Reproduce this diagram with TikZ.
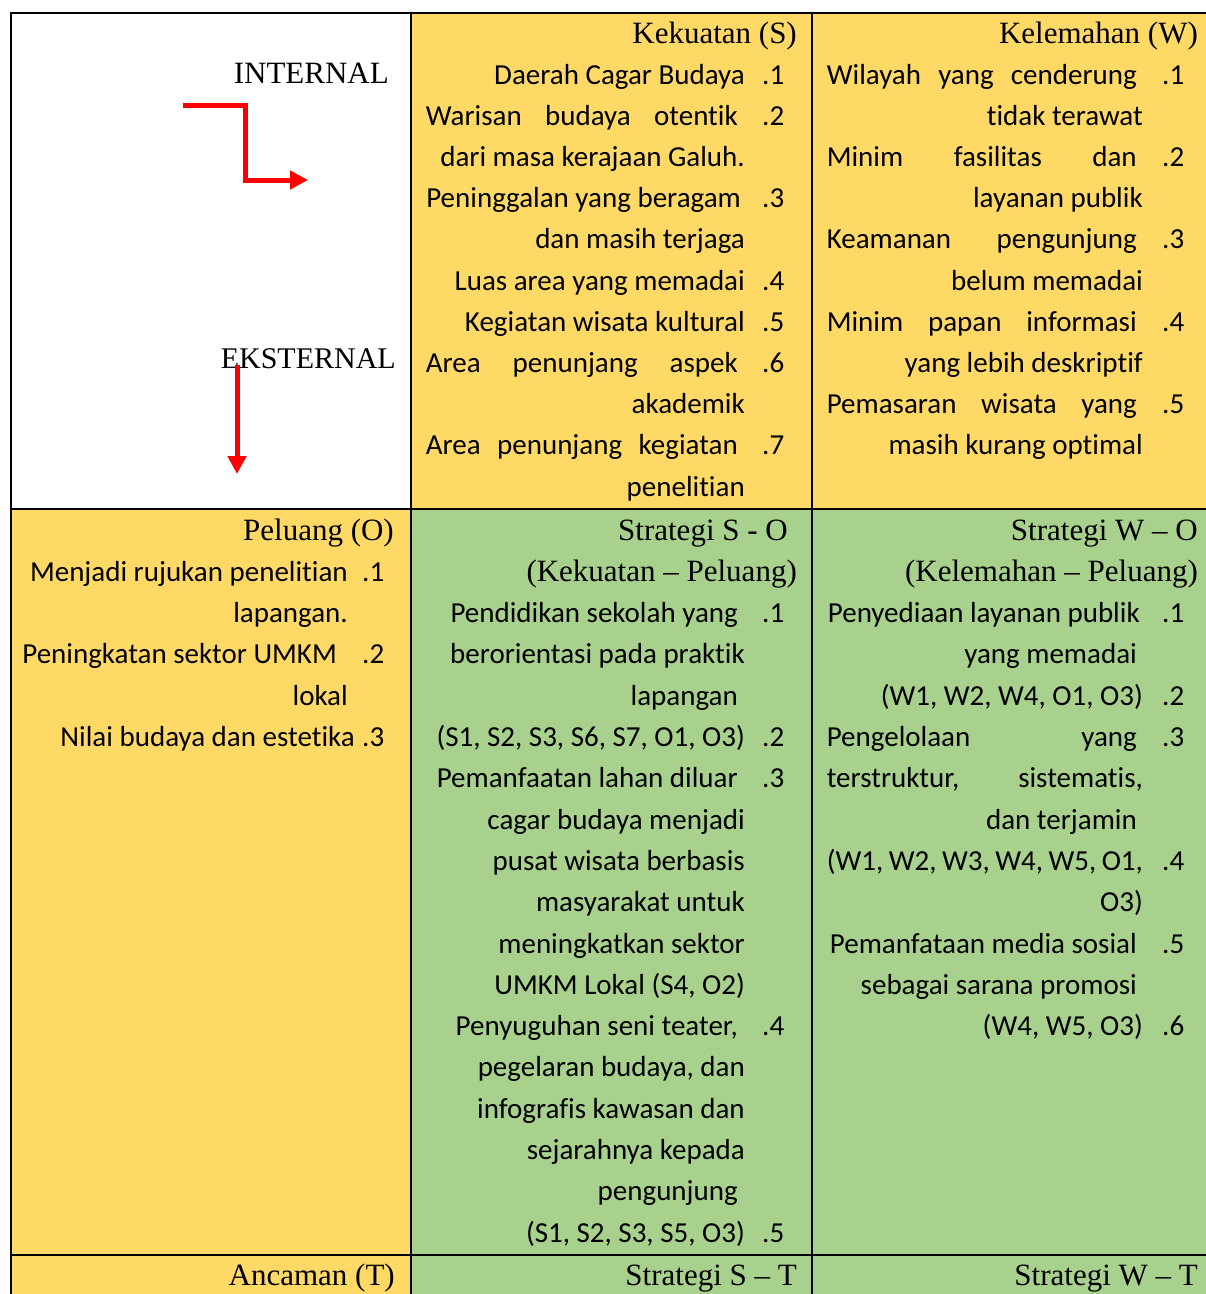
\documentclass[tikz,border=0pt]{standalone}
\usepackage{fontspec}
\setmainfont{Liberation Serif}
\newfontfamily\isifont[Ligatures=NoCommon]{Carlito}
\usetikzlibrary{arrows.meta}
\definecolor{kuning}{RGB}{255,217,102}
\definecolor{hijau}{RGB}{169,209,142}
\newcommand{\rata}[2]{\makebox[#1pt][s]{#2}}
\begin{document}
\begin{tikzpicture}[x=1pt,y=-1pt,line join=miter,
	isi/.style={anchor=base east,inner sep=0pt,font=\isifont\fontsize{29}{35}\selectfont},
	nomor/.style={anchor=base west,inner sep=0pt,font=\isifont\fontsize{29}{35}\selectfont},
	judul/.style={anchor=base east,inner sep=0pt,font=\fontsize{31}{37}\selectfont},
	garis/.style={line width=2.5pt},
	panah/.style={draw=red,line width=5pt,-{Triangle[length=18pt,width=18pt]}}]
	\clip (0,0) rectangle (1206,1294);
	\fill[white] (0,0) rectangle (1206,1294);
	\fill[kuning] (411,13) rectangle (1220,509) (11,509) rectangle (411,1310);
	\fill[hijau] (411,509) rectangle (1220,1310);
	\draw[garis] (11,1310)--(11,13)--(1220,13) (11,509)--(1220,509) (11,1255)--(1220,1255)
		(411,13)--(411,1310) (812,13)--(812,1310);
	% pojok kiri atas
	\node[judul] (int) at (389,83) {INTERNAL};
	\node[judul,font=\fontsize{30}{36}\selectfont] (eks) at (396,368) {EKSTERNAL};
	\coordinate (p1) at (183,105);
	\coordinate (p2) at (245,180);
	\coordinate (p3) at (308,180);
	\coordinate (q1) at (237,365);
	\coordinate (q2) at (237,474);
	\draw[panah] (p1) -| (p2) -- (p3);
	\draw[panah] (q1) -- (q2);
	% kekuatan
	\node[judul] (kek) at (797,43) {Kekuatan (S)};
	\node[isi] (s1) at (745,84) {Daerah Cagar Budaya};
	\node[isi] (s2) at (738,125.2) {\rata{312}{Warisan budaya otentik}};
	\node[isi] (s3) at (745,166.4) {dari masa kerajaan Galuh.};
	\node[isi] (s4) at (741,207.6) {Peninggalan yang beragam};
	\node[isi] (s5) at (745,248.8) {dan masih terjaga};
	\node[isi] (s6) at (745,290) {Luas area yang memadai};
	\node[isi] (s7) at (745,331.2) {Kegiatan wisata kultural};
	\node[isi] (s8) at (738,372.4) {\rata{312}{Area penunjang aspek}};
	\node[isi] (s9) at (745,413.6) {akademik};
	\node[isi] (s10) at (738,454.8) {\rata{312}{Area penunjang kegiatan}};
	\node[isi] (s11) at (745,496) {penelitian};
	\node[nomor] (ns1) at (762,84) {.1};
	\node[nomor] (ns2) at (762,125.2) {.2};
	\node[nomor] (ns3) at (762,207.6) {.3};
	\node[nomor] (ns4) at (762,290) {.4};
	\node[nomor] (ns5) at (762,331.2) {.5};
	\node[nomor] (ns6) at (762,372.4) {.6};
	\node[nomor] (ns7) at (762,454.8) {.7};
	% kelemahan
	\node[judul] (kel) at (1198,43) {Kelemahan (W)};
	\node[isi] (w1) at (1137,84) {\rata{310}{Wilayah yang cenderung}};
	\node[isi] (w2) at (1143,125.2) {tidak terawat};
	\node[isi] (w3) at (1137,166.4) {\rata{310}{Minim fasilitas dan}};
	\node[isi] (w4) at (1143,207.6) {layanan publik};
	\node[isi] (w5) at (1137,248.8) {\rata{310}{Keamanan pengunjung}};
	\node[isi] (w6) at (1143,290) {belum memadai};
	\node[isi] (w7) at (1137,331.2) {\rata{310}{Minim papan informasi}};
	\node[isi] (w8) at (1143,372.4) {yang lebih deskriptif};
	\node[isi] (w9) at (1137,413.6) {\rata{310}{Pemasaran wisata yang}};
	\node[isi] (w10) at (1143,454.8) {masih kurang optimal};
	\node[nomor] (nw1) at (1162,84) {.1};
	\node[nomor] (nw2) at (1162,166.4) {.2};
	\node[nomor] (nw3) at (1162,248.8) {.3};
	\node[nomor] (nw4) at (1162,331.2) {.4};
	\node[nomor] (nw5) at (1162,413.6) {.5};
	% peluang
	\node[judul] (pel) at (394,540) {Peluang (O)};
	\node[isi] (o1) at (348,581.3) {Menjadi rujukan penelitian};
	\node[isi] (o2) at (348,622.6) {lapangan.};
	\node[isi] (o3) at (337,663.9) {Peningkatan sektor UMKM};
	\node[isi] (o4) at (348,705.2) {lokal};
	\node[isi] (o5) at (355,746.5) {Nilai budaya dan estetika};
	\node[nomor] (no1) at (362,581.3) {.1};
	\node[nomor] (no2) at (362,663.9) {.2};
	\node[nomor] (no3) at (362,746.5) {.3};
	% strategi S-O
	\node[judul] (so) at (788,540) {Strategi S - O};
	\node[judul] (so0) at (797,581.3) {(Kekuatan -- Peluang)};
	\node[isi] (so1) at (738,622.6) {Pendidikan sekolah yang};
	\node[isi] (so2) at (745,663.9) {berorientasi pada praktik};
	\node[isi] (so3) at (738,705.2) {lapangan};
	\node[isi] (so4) at (745,746.5) {(S1, S2, S3, S6, S7, O1, O3)};
	\node[isi] (so5) at (738,787.8) {Pemanfaatan lahan diluar};
	\node[isi] (so6) at (745,829.1) {cagar budaya menjadi};
	\node[isi] (so7) at (745,870.4) {pusat wisata berbasis};
	\node[isi] (so8) at (745,911.7) {masyarakat untuk};
	\node[isi] (so9) at (745,953) {meningkatkan sektor};
	\node[isi] (so10) at (745,994.3) {UMKM Lokal (S4, O2)};
	\node[isi] (so11) at (738,1035.6) {Penyuguhan seni teater,};
	\node[isi] (so12) at (745,1076.9) {pegelaran budaya, dan};
	\node[isi] (so13) at (745,1118.2) {infografis kawasan dan};
	\node[isi] (so14) at (745,1159.5) {sejarahnya kepada};
	\node[isi] (so15) at (738,1200.8) {pengunjung};
	\node[isi] (so16) at (745,1242.1) {(S1, S2, S3, S5, O3)};
	\node[nomor] (nso1) at (762,622.6) {.1};
	\node[nomor] (nso2) at (762,746.5) {.2};
	\node[nomor] (nso3) at (762,787.8) {.3};
	\node[nomor] (nso4) at (762,1035.6) {.4};
	\node[nomor] (nso5) at (762,1242.1) {.5};
	% strategi W-O
	\node[judul] (wo) at (1198,540) {Strategi W -- O};
	\node[judul] (wo0) at (1198,581.3) {(Kelemahan -- Peluang)};
	\node[isi] (wo1) at (1140,622.6) {Penyediaan layanan publik};
	\node[isi] (wo2) at (1137,663.9) {yang memadai};
	\node[isi] (wo3) at (1143,705.2) {(W1, W2, W4, O1, O3)};
	\node[isi] (wo4) at (1137,746.5) {\rata{310}{Pengelolaan yang}};
	\node[isi] (wo5) at (1143,787.8) {\rata{316}{terstruktur, sistematis,}};
	\node[isi] (wo6) at (1137,829.1) {dan terjamin};
	\node[isi] (wo7) at (1143,870.4) {\rata{316}{(W1, W2, W3, W4, W5, O1,}};
	\node[isi] (wo8) at (1143,911.7) {O3)};
	\node[isi] (wo9) at (1137,953) {Pemanfataan media sosial};
	\node[isi] (wo10) at (1137,994.3) {sebagai sarana promosi};
	\node[isi] (wo11) at (1143,1035.6) {(W4, W5, O3)};
	\node[nomor] (nwo1) at (1162,622.6) {.1};
	\node[nomor] (nwo2) at (1162,705.2) {.2};
	\node[nomor] (nwo3) at (1162,746.5) {.3};
	\node[nomor] (nwo4) at (1162,870.4) {.4};
	\node[nomor] (nwo5) at (1162,953) {.5};
	\node[nomor] (nwo6) at (1162,1035.6) {.6};
	% baris ancaman
	\node[judul] (anc) at (395,1285) {Ancaman (T)};
	\node[judul] (st) at (797,1285) {Strategi S -- T};
	\node[judul] (wt) at (1198,1285) {Strategi W -- T};
\end{tikzpicture}
\end{document}
